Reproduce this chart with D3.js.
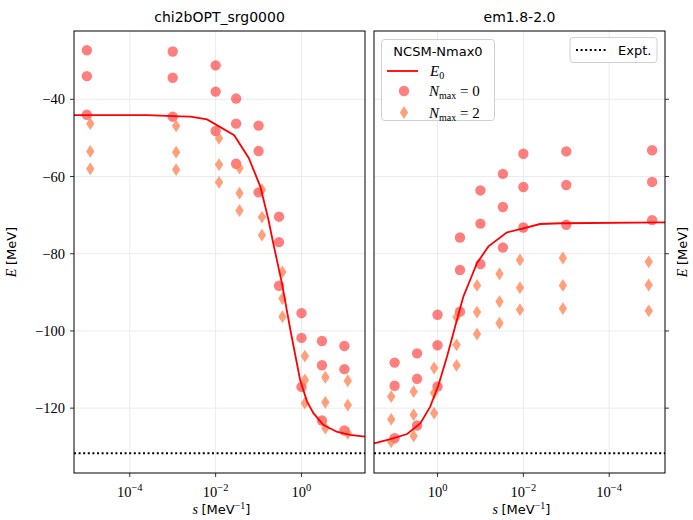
<!DOCTYPE html>
<html>
<head>
<meta charset="utf-8">
<script src="https://cdn.jsdelivr.net/npm/d3@7"></script>
<style>
  body { margin: 0; background: #fff; }
  text { fill: #000; }
  .sans { font-family: "DejaVu Sans", sans-serif; }
  .serif { font-family: "Liberation Serif", "DejaVu Serif", serif; }
</style>
</head>
<body>
<div id="chart"></div>
<script>
// SRG flow of E0, two interactions side by side
var w = 693, h = 520;

var sVals = [1e-5, 1e-3, 1e-2, 3e-2, 0.1, 0.3, 1, 3, 10];
var diamondShift = 1.2;   // Nmax=2 points drawn at s*1.2
var expt = -131.7;

// left panel: chi2bOPT_srg0000, three lowest states per s
var leftN0 = [
  [-27.3, -34.0, -44.0],
  [-27.6, -34.4, -44.5],
  [-31.2, -38.0, -48.2],
  [-39.8, -46.3, -56.7],
  [-46.8, -53.4, -64.1],
  [-70.4, -77.0, -88.3],
  [-95.4, -101.8, -114.5],
  [-102.6, -108.9, -123.2],
  [-103.9, -109.9, -125.8]
];
var leftN2 = [
  [-46.3, -53.5, -58.0],
  [-46.9, -53.7, -58.2],
  [-50.1, -56.9, -61.5],
  [-57.8, -64.3, -68.8],
  [-63.4, -70.5, -75.2],
  [-84.7, -91.6, -96.3],
  [-106.5, -112.7, -118.7],
  [-112.0, -118.5, -125.2],
  [-112.9, -119.2, -126.5]
];
var leftE0s = [5e-6, 2.5e-4, 1.5e-3, 2.6e-3, 6.3e-3, 0.027, 0.059, 0.11, 0.17, 0.22, 0.35, 0.55, 0.93, 1.35, 1.9, 3.2, 6.6, 13.5, 30];
var leftE0 = [-44.1, -44.1, -44.4, -44.5, -45.2, -49.3, -55.2, -62.6, -71.2, -77.3, -87.6, -99.7, -112.7, -118.3, -121.3, -124.3, -126.1, -126.9, -127.4];

// right panel: em1.8-2.0
var rightN0 = [
  [-53.2, -61.4, -71.3],
  [-53.5, -62.2, -72.5],
  [-54.1, -62.7, -73.2],
  [-59.3, -67.9, -78.4],
  [-63.6, -72.2, -82.7],
  [-75.8, -84.2, -95.0],
  [-95.8, -103.7, -114.4],
  [-105.8, -112.4, -124.5],
  [-108.2, -114.2, -127.8]
];
var rightN2 = [
  [-82.1, -88.1, -94.8],
  [-81.1, -88.2, -94.2],
  [-81.6, -88.8, -94.5],
  [-85.2, -92.4, -98.0],
  [-88.2, -95.1, -100.8],
  [-96.4, -103.6, -108.9],
  [-109.6, -116.1, -121.3],
  [-115.7, -121.7, -127.2],
  [-117.0, -122.9, -128.7]
];
var rightE0s = [30, 12.6, 5.1, 2.5, 1.48, 0.95, 0.6, 0.39, 0.25, 0.174, 0.12, 0.065, 0.0245, 0.01, 0.0041, 0.0013, 5e-6];
var rightE0 = [-129.1, -128.0, -126.7, -123.9, -119.6, -114.0, -106.6, -98.9, -91.1, -86.8, -82.4, -78.1, -74.5, -73.4, -72.3, -72.1, -71.9];

var xTicks = [1e-4, 1e-2, 1];
var xTickExp = ["\u22124", "\u22122", "0"];
var yTicks = [-40, -60, -80, -100, -120];

var top_ = 31, bottom = 473;
var sDomain = [Math.pow(10, -5.3), Math.pow(10, 1.48)];
var y = d3.scaleLinear().domain([-136.8, -22.3]).range([bottom, top_]);

var panels = [
  { title: "chi2bOPT_srg0000", x0: 74, x1: 365, reversed: false, n0: leftN0, n2: leftN2, es: leftE0s, e: leftE0, yside: "left" },
  { title: "em1.8-2.0", x0: 374, x1: 665, reversed: true, n0: rightN0, n2: rightN2, es: rightE0s, e: rightE0, yside: "right" }
];

var circColor = "#ff0000", circOp = 0.5, diaColor = "#ff7f50", diaOp = 0.75;

var svg = d3.select("#chart").append("svg").attr("width", w).attr("height", h);

var diamond = function(cx, cy) {
  var a = 4.2, b = 6.4;
  return "M" + cx + "," + (cy - b) + "L" + (cx + a) + "," + cy + "L" + cx + "," + (cy + b) + "L" + (cx - a) + "," + cy + "Z";
};

panels.forEach(function(p) {
  var x = d3.scaleLog().domain(sDomain).range(p.reversed ? [p.x1, p.x0] : [p.x0, p.x1]);
  var g = svg.append("g");
  var clip = "clip" + p.x0;
  svg.append("clipPath").attr("id", clip).append("rect")
    .attr("x", p.x0).attr("y", top_).attr("width", p.x1 - p.x0).attr("height", bottom - top_);

  // grid
  g.selectAll("line.gx").data(xTicks).enter().append("line")
    .attr("x1", function(d) { return x(d); }).attr("x2", function(d) { return x(d); })
    .attr("y1", top_).attr("y2", bottom).attr("stroke", "#ebebeb").attr("stroke-width", 1);
  g.selectAll("line.gy").data(yTicks).enter().append("line")
    .attr("x1", p.x0).attr("x2", p.x1)
    .attr("y1", function(d) { return y(d); }).attr("y2", function(d) { return y(d); })
    .attr("stroke", "#ebebeb").attr("stroke-width", 1);

  var plot = g.append("g").attr("clip-path", "url(#" + clip + ")");

  // expt line
  plot.append("line").attr("x1", p.x0).attr("x2", p.x1)
    .attr("y1", y(expt)).attr("y2", y(expt))
    .attr("stroke", "#000").attr("stroke-width", 2).attr("stroke-dasharray", "2,2.6");

  // Nmax=0 circles
  p.n0.forEach(function(lv, i) {
    plot.selectAll(null).data(lv).enter().append("circle")
      .attr("cx", x(sVals[i])).attr("cy", function(d) { return y(d); })
      .attr("r", 5.2).attr("fill", circColor).attr("fill-opacity", circOp);
  });
  // Nmax=2 diamonds
  p.n2.forEach(function(lv, i) {
    plot.selectAll(null).data(lv).enter().append("path")
      .attr("d", function(d) { return diamond(x(sVals[i] * diamondShift), y(d)); })
      .attr("fill", diaColor).attr("fill-opacity", diaOp);
  });

  // E0 line
  var line = d3.line().x(function(d) { return x(d[0]); }).y(function(d) { return y(d[1]); });
  plot.append("path").datum(d3.zip(p.es, p.e)).attr("d", line)
    .attr("fill", "none").attr("stroke", "#ff0000").attr("stroke-width", 1.8);

  // frame
  g.append("rect").attr("x", p.x0).attr("y", top_).attr("width", p.x1 - p.x0).attr("height", bottom - top_)
    .attr("fill", "none").attr("stroke", "#000").attr("stroke-width", 1);

  // x ticks
  xTicks.forEach(function(t, i) {
    g.append("line").attr("x1", x(t)).attr("x2", x(t)).attr("y1", bottom).attr("y2", bottom + 4)
      .attr("stroke", "#000").attr("stroke-width", 0.8);
    var tx = g.append("text").attr("class", "serif").attr("x", x(t)).attr("y", 497)
      .attr("text-anchor", "middle").style("font-size", "14.5px");
    tx.append("tspan").text("10");
    tx.append("tspan").attr("dy", -6).style("font-size", "10.5px").text(xTickExp[i]);
  });

  // y ticks
  yTicks.forEach(function(t) {
    var xe = p.yside === "left" ? p.x0 : p.x1;
    var dir = p.yside === "left" ? -1 : 1;
    g.append("line").attr("x1", xe).attr("x2", xe + dir * 4).attr("y1", y(t)).attr("y2", y(t))
      .attr("stroke", "#000").attr("stroke-width", 0.8);
    if (p.yside === "left") {
      g.append("text").attr("class", "serif").attr("x", xe - 9).attr("y", y(t) + 5)
        .attr("text-anchor", "end").style("font-size", "14.5px").text("\u2212" + Math.abs(t));
    }
  });

  // title
  g.append("text").attr("class", "sans").attr("x", (p.x0 + p.x1) / 2).attr("y", 22)
    .attr("text-anchor", "middle").style("font-size", "14px").text(p.title);

  // x label
  var xl = g.append("text").attr("x", (p.x0 + p.x1) / 2 + 2).attr("y", 514)
    .attr("text-anchor", "middle").style("font-size", "14px");
  xl.append("tspan").attr("class", "serif").style("font-style", "italic").text("s ");
  xl.append("tspan").attr("class", "sans").style("font-size", "13px").text(" [MeV");
  xl.append("tspan").attr("class", "serif").attr("dy", -5).style("font-size", "10px").text("\u22121");
  xl.append("tspan").attr("class", "sans").attr("dy", 5).style("font-size", "13px").text("]");

  // y label
  var yx = p.yside === "left" ? 16 : 687;
  var yl = g.append("text").attr("transform", "translate(" + yx + "," + 252 + ") rotate(-90)")
    .attr("text-anchor", "middle").style("font-size", "14px");
  yl.append("tspan").attr("class", "serif").style("font-style", "italic").text("E ");
  yl.append("tspan").attr("class", "sans").style("font-size", "13px").text(" [MeV]");
});

// legend 1
var lg = svg.append("g");
lg.append("rect").attr("x", 381.5).attr("y", 39.5).attr("width", 113).attr("height", 81).attr("rx", 3)
  .attr("fill", "#fff").attr("fill-opacity", 0.85).attr("stroke", "#d0d0d0");
lg.append("text").attr("class", "sans").attr("x", 438).attr("y", 55.5).attr("text-anchor", "middle")
  .style("font-size", "13px").text("NCSM-Nmax0");
lg.append("line").attr("x1", 387).attr("x2", 418).attr("y1", 71).attr("y2", 71)
  .attr("stroke", "#ff0000").attr("stroke-width", 1.8);
var t0 = lg.append("text").attr("class", "serif").attr("x", 430).attr("y", 76).style("font-size", "15px");
t0.append("tspan").style("font-style", "italic").text("E");
t0.append("tspan").attr("dy", 3).style("font-size", "10px").text("0");
lg.append("circle").attr("cx", 404).attr("cy", 91).attr("r", 5.2).attr("fill", circColor).attr("fill-opacity", circOp);
lg.append("path").attr("d", diamond(404, 112.5)).attr("fill", diaColor).attr("fill-opacity", diaOp);
["0", "2"].forEach(function(n, i) {
  var t = lg.append("text").attr("class", "serif").attr("x", 429).attr("y", 96 + i * 21.5).style("font-size", "15px");
  t.append("tspan").style("font-style", "italic").text("N");
  t.append("tspan").attr("dy", 3).style("font-size", "10px").text("max");
  t.append("tspan").attr("dy", -3).text(" = " + n);
});

// legend 2
var lg2 = svg.append("g");
lg2.append("rect").attr("x", 570).attr("y", 37.5).attr("width", 87).attr("height", 25).attr("rx", 3)
  .attr("fill", "#fff").attr("fill-opacity", 0.85).attr("stroke", "#d0d0d0");
lg2.append("line").attr("x1", 576).attr("x2", 607).attr("y1", 50).attr("y2", 50)
  .attr("stroke", "#000").attr("stroke-width", 2).attr("stroke-dasharray", "2,2.6");
lg2.append("text").attr("class", "sans").attr("x", 618).attr("y", 54.5).style("font-size", "13px").text("Expt.");
</script>
</body>
</html>
